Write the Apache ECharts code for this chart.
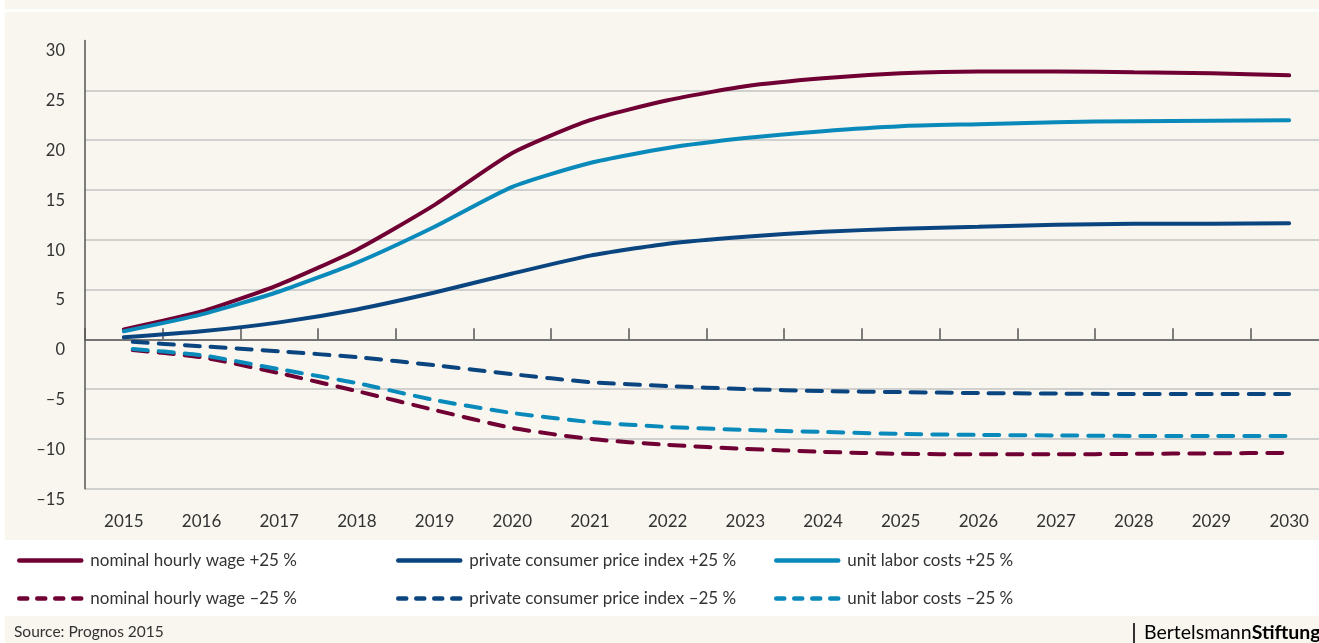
<!DOCTYPE html>
<html>
<head>
<meta charset="utf-8">
<script src="https://cdn.jsdelivr.net/npm/echarts@6/dist/echarts.min.js"></script>
<style>
  html, body { margin: 0; padding: 0; background: #fff; }
  #main { width: 1319px; height: 643px; }
</style>
</head>
<body>
<div id="main"></div>
<script>
var years = ['2015', '2016', '2017', '2018', '2019', '2020', '2021', '2022',
  '2023', '2024', '2025', '2026', '2027', '2028', '2029', '2030'];

var wageUp = [1.0, 2.8, 5.5, 9.0, 13.5, 18.7, 22.0, 24.0, 25.4, 26.2, 26.7, 26.9, 26.9, 26.8, 26.7, 26.5];
var priceUp = [0.2, 0.8, 1.7, 3.0, 4.7, 6.6, 8.4, 9.6, 10.3, 10.8, 11.1, 11.3, 11.5, 11.6, 11.6, 11.65];
var ulcUp = [0.8, 2.5, 4.8, 7.7, 11.3, 15.3, 17.7, 19.2, 20.2, 20.9, 21.4, 21.6, 21.8, 21.9, 21.95, 22.0];
var wageDown = [-1.0, -1.8, -3.4, -5.2, -7.1, -8.9, -10.0, -10.6, -11.0, -11.3, -11.5, -11.55, -11.55, -11.5, -11.45, -11.4];
var priceDown = [-0.2, -0.7, -1.2, -1.8, -2.6, -3.5, -4.3, -4.7, -5.0, -5.2, -5.3, -5.4, -5.45, -5.5, -5.5, -5.5];
var ulcDown = [-0.9, -1.6, -3.0, -4.4, -6.1, -7.4, -8.3, -8.8, -9.1, -9.3, -9.5, -9.6, -9.65, -9.7, -9.7, -9.7];

var names = {
  wageUp: 'nominal hourly wage +25 %',
  wageDown: 'nominal hourly wage \u201325 %',
  priceUp: 'private consumer price index +25 %',
  priceDown: 'private consumer price index \u201325 %',
  ulcUp: 'unit labor costs +25 %',
  ulcDown: 'unit labor costs \u201325 %'
};

var maroon = '#700034';
var navy = '#0b4580';
var cyan = '#0a8abb';
var font = 'Lato';
var cream = '#f8f6ee';

function line(name, data, color, dashed) {
  return {
    name: name,
    type: 'line',
    data: data,
    smooth: 0.2,
    symbol: 'none',
    showSymbol: false,
    lineStyle: {
      color: color,
      width: 4,
      cap: 'round',
      type: dashed ? [15, 11] : 'solid',
      dashOffset: dashed ? 17 : 0
    },
    itemStyle: { color: color }
  };
}

function legendCol(left, solidName, dashName) {
  return {
    orient: 'vertical',
    left: left,
    top: 547,
    itemWidth: 62,
    itemHeight: 20,
    itemGap: 21,
    itemStyle: { opacity: 0 },
    textStyle: {
      fontFamily: font,
      fontSize: 17,
      color: '#333',
      padding: [0, 0, 0, 4]
    },
    data: [
      { name: solidName, lineStyle: { width: 4.5, cap: 'round' } },
      { name: dashName, lineStyle: { width: 4.5, cap: 'round', type: [8, 10], dashOffset: 0 } }
    ]
  };
}

var myChart = echarts.init(document.getElementById('main'));

var option = {
  backgroundColor: '#fff',
  animation: false,
  textStyle: { fontFamily: font },
  graphic: [
    { type: 'rect', z: -10, silent: true, shape: { x: 5, y: 0, width: 1314, height: 9 }, style: { fill: cream } },
    { type: 'rect', z: -10, silent: true, shape: { x: 5, y: 12, width: 1314, height: 528 }, style: { fill: cream } },
    { type: 'rect', z: -10, silent: true, shape: { x: 5, y: 616, width: 1314, height: 27 }, style: { fill: cream } },
    {
      type: 'text', left: 14, top: 624,
      style: { text: 'Source: Prognos 2015', font: '15.5px Lato', fill: '#333' }
    },
    { type: 'rect', silent: true, shape: { x: 1133, y: 623, width: 2, height: 20 }, style: { fill: '#333' } },
    {
      type: 'text', left: 1144, top: 623,
      style: {
        text: '{a|Bertelsmann}{b|Stiftung}',
        rich: {
          a: { fontFamily: font, fontSize: 19.5, color: '#333' },
          b: { fontFamily: font, fontSize: 19.5, fontWeight: 'bold', color: '#333' }
        }
      }
    }
  ],
  legend: [
    legendCol(12, names.wageUp, names.wageDown),
    legendCol(391, names.priceUp, names.priceDown),
    legendCol(769, names.ulcUp, names.ulcDown)
  ],
  grid: {
    left: 85,
    right: -9,
    top: 40.5,
    bottom: 154.3,
    containLabel: false,
    outerBoundsMode: 'none'
  },
  xAxis: {
    type: 'category',
    data: years,
    boundaryGap: true,
    axisLine: { show: true, onZero: true, lineStyle: { color: '#555', width: 1.5 } },
    axisTick: { show: true, inside: true, length: 11, interval: 0, lineStyle: { color: '#555', width: 1.5 } },
    axisLabel: { margin: 24, interval: 0, fontFamily: font, fontSize: 17, color: '#333' },
    splitLine: { show: false }
  },
  yAxis: {
    type: 'value',
    min: -15,
    max: 30,
    interval: 5,
    axisLine: { show: true, lineStyle: { color: '#555', width: 1.5 } },
    axisTick: { show: false },
    axisLabel: {
      margin: 20,
      fontFamily: font,
      fontSize: 16.5,
      color: '#333',
      verticalAlign: 'top',
      padding: [2, 0, 0, 0],
      formatter: function (v) { return String(v).replace('-', '\u2013'); }
    },
    splitLine: {
      show: true,
      showMaxLine: false,
      lineStyle: { color: '#c3c3c3', width: 1.5 }
    }
  },
  series: [
    line(names.wageUp, wageUp, maroon, false),
    line(names.priceUp, priceUp, navy, false),
    line(names.ulcUp, ulcUp, cyan, false),
    line(names.wageDown, wageDown, maroon, true),
    line(names.priceDown, priceDown, navy, true),
    line(names.ulcDown, ulcDown, cyan, true)
  ]
};

myChart.setOption(option);
</script>
</body>
</html>
